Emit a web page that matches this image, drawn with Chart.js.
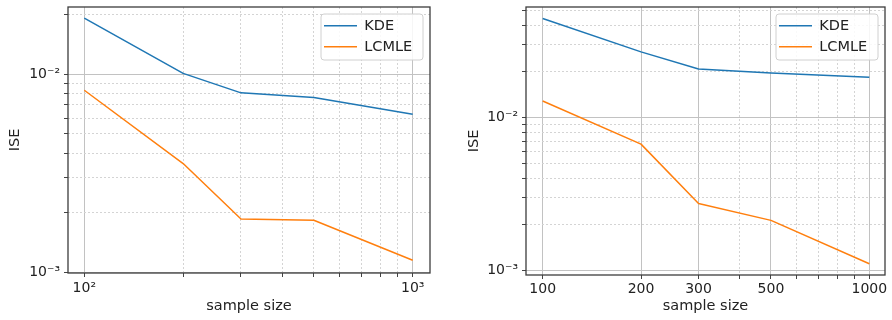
<!DOCTYPE html>
<html><head><meta charset="utf-8">
<script src="https://cdn.jsdelivr.net/npm/chart.js@4.4.1/dist/chart.umd.min.js"></script>
<style>
html,body{margin:0;padding:0;background:#fff;width:892px;height:320px;overflow:hidden}
.box{position:absolute;top:0;width:446px;height:320px}
canvas{display:block}
</style></head><body>
<div class="box" style="left:0"><canvas id="c1" width="446" height="320"></canvas></div>
<div class="box" style="left:446px"><canvas id="c2" width="446" height="320"></canvas></div>
<script>
// ---- data ----
const sampleSizes = [100, 200, 300, 500, 1000];
const seriesNames = ['KDE', 'LCMLE'];
const kdeLeft = [0.0192, 0.0101, 0.00805, 0.00763, 0.00628];
const lcmleLeft = [0.0083, 0.00354, 0.00186, 0.00183, 0.00115];
const kdeRight = [0.0442, 0.0268, 0.0207, 0.0195, 0.0183];
const lcmleRight = [0.0128, 0.0067, 0.00274, 0.00213, 0.00111];

// ---- ticks ----
const xGridTicks = [100, 200, 300, 400, 500, 600, 700, 800, 900, 1000];
const xLabelsLeft = {100: '10²', 1000: '10³'};
const xLabelsRight = {100: '100', 200: '200', 300: '300', 500: '500', 1000: '1000'};
const yGridTicksLeft = [0.001, 0.002, 0.003, 0.004, 0.005, 0.006, 0.007, 0.008, 0.009, 0.01, 0.02];
const yGridTicksRight = [0.001, 0.002, 0.003, 0.004, 0.005, 0.006, 0.007, 0.008, 0.009, 0.01, 0.02, 0.03, 0.04, 0.05];
const yLabels = {0.001: '10⁻³', 0.01: '10⁻²'};

Chart.defaults.font.family = "'DejaVu Sans', sans-serif";
Chart.defaults.color = '#222';

const COLORS = ['#1f77b4', '#ff7f0e'];
const has = (o, v) => Object.prototype.hasOwnProperty.call(o, v);

const frameAndLegend = {
  id: 'frameAndLegend',
  afterLayout(chart) {
    const ca = chart.chartArea, lg = chart.legend;
    const fr = {x: ca.right - 7 - 102, y: ca.top + 7, w: 102, h: 46};
    chart.$legendFrame = fr;
    lg.left = fr.x - 3.5; lg.top = fr.y - 2;
    lg.right = fr.x + fr.w; lg.bottom = fr.y + fr.h + 30;
    lg.width = lg.right - lg.left; lg.height = lg.bottom - lg.top;
    if (!lg.$wrapped) {
      const orig = lg.draw;
      lg.draw = function (...args) {
        const ctx = chart.ctx, f = chart.$legendFrame, r = 3;
        ctx.save();
        ctx.beginPath();
        ctx.moveTo(f.x + r, f.y);
        ctx.lineTo(f.x + f.w - r, f.y);
        ctx.arcTo(f.x + f.w, f.y, f.x + f.w, f.y + r, r);
        ctx.lineTo(f.x + f.w, f.y + f.h - r);
        ctx.arcTo(f.x + f.w, f.y + f.h, f.x + f.w - r, f.y + f.h, r);
        ctx.lineTo(f.x + r, f.y + f.h);
        ctx.arcTo(f.x, f.y + f.h, f.x, f.y + f.h - r, r);
        ctx.lineTo(f.x, f.y + r);
        ctx.arcTo(f.x, f.y, f.x + r, f.y, r);
        ctx.closePath();
        ctx.fillStyle = 'rgba(255,255,255,0.85)';
        ctx.fill();
        ctx.strokeStyle = '#d0d0d0';
        ctx.lineWidth = 1;
        ctx.stroke();
        ctx.restore();
        return orig.apply(this, args);
      };
      lg.$wrapped = true;
    }
  },
  afterDatasetsDraw(chart) {
    const {ctx, chartArea: a} = chart;
    ctx.save();
    ctx.strokeStyle = '#3c3c3c';
    ctx.lineWidth = 1.3;
    ctx.strokeRect(a.left, a.top, a.right - a.left, a.bottom - a.top);
    ctx.restore();
  }
};

function makeChart(id, o) {
  const gridColor = (labels) => (c) => (c.tick && has(labels, c.tick.value)) ? '#c2c2c2' : '#d4d4d4';
  const gridDash = (labels) => (c) => (c.tick && !has(labels, c.tick.value)) ? [2, 2] : [];
  return new Chart(document.getElementById(id), {
    type: 'line',
    data: {
      datasets: [o.kde, o.lcmle].map((vals, k) => ({
        label: seriesNames[k],
        data: sampleSizes.map((x, i) => ({x, y: vals[i]})),
        borderColor: COLORS[k],
        backgroundColor: COLORS[k],
        borderWidth: 1.5,
        pointRadius: 0,
        pointStyle: 'line',
        borderJoinStyle: 'round',
        tension: 0
      }))
    },
    options: {
      responsive: false,
      animation: false,
      devicePixelRatio: 1,
      layout: {padding: {left: 0, right: o.padRight, top: 7, bottom: 0}},
      plugins: {
        legend: {
          position: 'chartArea',
          align: 'start',
          labels: {
            usePointStyle: true,
            pointStyle: 'line',
            pointStyleWidth: 33,
            padding: 6.5,
            color: '#222',
            font: {size: 14.5}
          }
        },
        tooltip: {enabled: false}
      },
      scales: {
        x: {
          type: 'logarithmic',
          min: o.xMin, max: o.xMax,
          afterBuildTicks: (s) => { s.ticks = xGridTicks.map(v => ({value: v})); },
          afterFit: (s) => { s.height = o.xHeight; s.paddingLeft = 0; s.paddingRight = 0; },
          ticks: {
            autoSkip: false, maxRotation: 0, minRotation: 0,
            padding: o.xTickPad, color: '#222', font: {size: 14},
            callback: (v) => has(o.xLabels, v) ? o.xLabels[v] : ''
          },
          grid: {color: gridColor(o.xLabels), lineWidth: 1, tickLength: 4, tickColor: '#444', tickWidth: 1},
          border: {display: false, dash: gridDash(o.xLabels)},
          title: {display: true, text: 'sample size', color: '#222', font: {size: 14.5}, padding: {top: 0, bottom: 4.6}}
        },
        y: {
          type: 'logarithmic',
          min: o.yMin, max: o.yMax,
          afterBuildTicks: (s) => { s.ticks = o.yTicks.map(v => ({value: v})); },
          afterFit: (s) => { s.width = o.yWidth; s.paddingTop = 0; s.paddingBottom = 0; },
          ticks: {
            autoSkip: false, padding: 4, color: '#222', font: {size: 14},
            callback: (v) => has(yLabels, v) ? yLabels[v] : ''
          },
          grid: {color: gridColor(yLabels), lineWidth: 1, tickLength: 4, tickColor: '#444', tickWidth: 1},
          border: {display: false, dash: gridDash(yLabels)},
          title: {display: true, text: 'ISE', color: '#222', font: {size: 14.5}, padding: {top: o.yTitlePad, bottom: 0}}
        }
      }
    },
    plugins: [frameAndLegend]
  });
}

makeChart('c1', {
  kde: kdeLeft, lcmle: lcmleLeft, xLabels: xLabelsLeft, yTicks: yGridTicksLeft,
  xMin: 89.2, xMax: 1129, yMin: 0.000992, yMax: 0.02184,
  padRight: 16, yWidth: 68, xHeight: 47, xTickPad: 3, yTitlePad: 6.8
});
makeChart('c2', {
  kde: kdeRight, lcmle: lcmleRight, xLabels: xLabelsRight, yTicks: yGridTicksRight,
  xMin: 88.9, xMax: 1117, yMin: 0.000937, yMax: 0.0526,
  padRight: 7, yWidth: 80, xHeight: 45, xTickPad: 2, yTitlePad: 19.6
});
</script>
</body></html>
